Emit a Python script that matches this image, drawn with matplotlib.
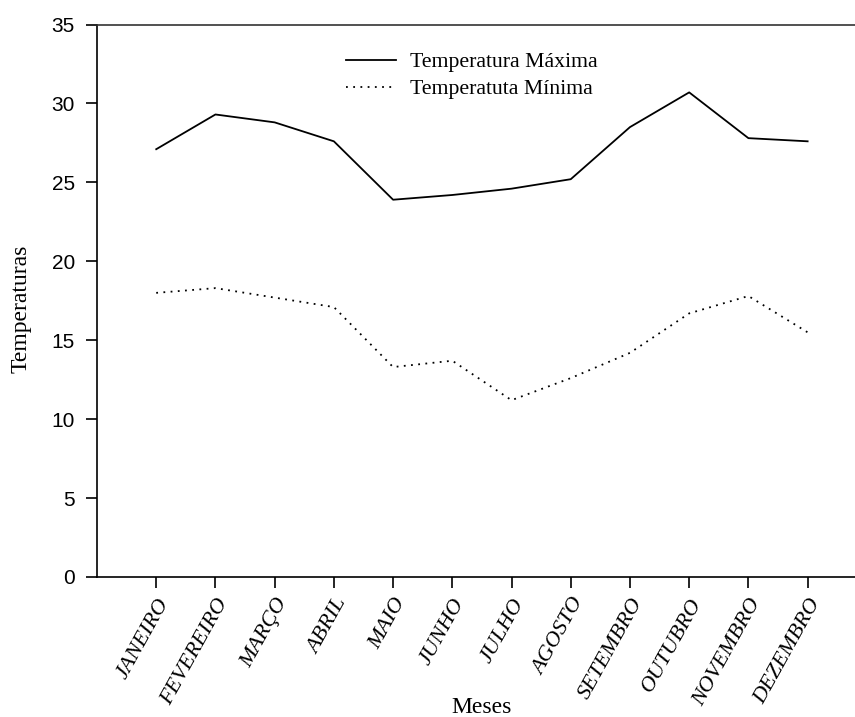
import matplotlib
matplotlib.use('Agg')
import matplotlib.pyplot as plt
import numpy as np

# data
meses = ['JANEIRO', 'FEVEREIRO', 'MARÇO', 'ABRIL', 'MAIO', 'JUNHO',
         'JULHO', 'AGOSTO', 'SETEMBRO', 'OUTUBRO', 'NOVEMBRO', 'DEZEMBRO']
temp_maxima = [27.1, 29.3, 28.8, 27.6, 23.9, 24.2, 24.6, 25.2, 28.5, 30.7, 27.8, 27.6]
temp_minima = [18.0, 18.3, 17.7, 17.1, 13.3, 13.7, 11.2, 12.6, 14.2, 16.7, 17.8, 15.5]
y_ticks = [0, 5, 10, 15, 20, 25, 30, 35]

serif = 'Liberation Serif'
sans = 'Liberation Sans'

fig = plt.figure(figsize=(8.55, 7.17), dpi=100)
ax = fig.add_axes([97 / 855, 140 / 717, 758 / 855, 552.5 / 717])

x = np.arange(1, len(meses) + 1)
ax.plot(x, temp_maxima, color='black', linewidth=1.3, label='Temperatura Máxima')
ax.plot(x, temp_minima, color='black', linewidth=1.3, linestyle=(0, (1, 3)),
        label='Temperatuta Mínima')

ax.set_xlim(0, 12.8)
ax.set_ylim(0, 35)
ax.set_yticks(y_ticks)
ax.set_xticks(x)
ax.set_xticklabels(meses, rotation=61, ha='right', va='top', rotation_mode='anchor',
                   fontfamily=serif, fontstyle='italic', fontsize=16)
for lbl in ax.get_yticklabels():
    lbl.set_fontfamily(sans)
    lbl.set_fontsize(15)

ax.tick_params(axis='both', direction='out', length=8, width=1.2, color='black')
ax.tick_params(axis='y', pad=8)
ax.tick_params(axis='x', pad=5)

ax.spines['right'].set_visible(False)
for side in ['left', 'bottom', 'top']:
    ax.spines[side].set_linewidth(1.2)
ax.spines['top'].set_color('#333333')

ax.set_xlabel('Meses', fontfamily=serif, fontsize=17)
ax.set_ylabel('Temperaturas', fontfamily=serif, fontsize=17)
ax.xaxis.set_label_coords(0.507, -0.218)
ax.yaxis.set_label_coords(-0.086, 0.486)

ax.legend(loc='upper left', bbox_to_anchor=(0.3285, 0.95), frameon=False,
          borderpad=0, borderaxespad=0, handlelength=2.3, handletextpad=0.65,
          labelspacing=0.3, prop={'family': serif, 'size': 15.7})

fig.savefig('out.png', dpi=100)
